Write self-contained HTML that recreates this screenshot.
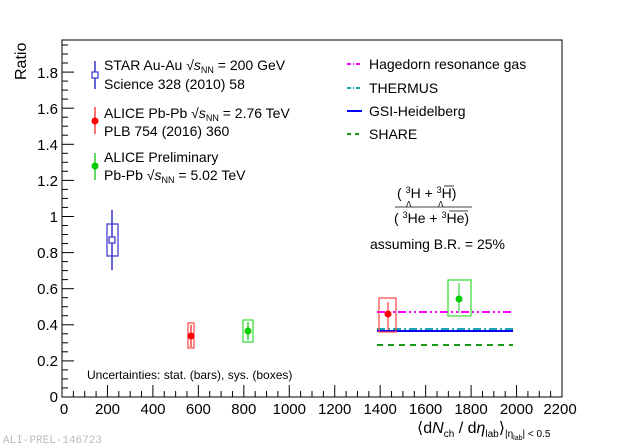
<!DOCTYPE html>
<html><head><style>
body{margin:0;background:#fff;}
svg{display:block;font-family:"Liberation Sans",Arial,sans-serif;}
</style></head><body>
<svg width="620" height="447" viewBox="0 0 620 447">
<rect x="62" y="40" width="500" height="357" fill="none" stroke="#000" stroke-width="1"/>
<g stroke="#000" stroke-width="1">
<line x1="62" y1="360.9" x2="74" y2="360.9"/><line x1="62" y1="324.8" x2="74" y2="324.8"/><line x1="62" y1="288.7" x2="74" y2="288.7"/><line x1="62" y1="252.6" x2="74" y2="252.6"/><line x1="62" y1="216.5" x2="74" y2="216.5"/><line x1="62" y1="180.4" x2="74" y2="180.4"/><line x1="62" y1="144.3" x2="74" y2="144.3"/><line x1="62" y1="108.2" x2="74" y2="108.2"/><line x1="62" y1="72.1" x2="74" y2="72.1"/>
<line x1="62" y1="387.9" x2="68" y2="387.9"/><line x1="62" y1="378.9" x2="68" y2="378.9"/><line x1="62" y1="369.9" x2="68" y2="369.9"/>
<line x1="62" y1="351.8" x2="68" y2="351.8"/><line x1="62" y1="342.8" x2="68" y2="342.8"/><line x1="62" y1="333.8" x2="68" y2="333.8"/>
<line x1="62" y1="315.7" x2="68" y2="315.7"/><line x1="62" y1="306.7" x2="68" y2="306.7"/><line x1="62" y1="297.7" x2="68" y2="297.7"/>
<line x1="62" y1="279.6" x2="68" y2="279.6"/><line x1="62" y1="270.6" x2="68" y2="270.6"/><line x1="62" y1="261.6" x2="68" y2="261.6"/>
<line x1="62" y1="243.5" x2="68" y2="243.5"/><line x1="62" y1="234.5" x2="68" y2="234.5"/><line x1="62" y1="225.5" x2="68" y2="225.5"/>
<line x1="62" y1="207.4" x2="68" y2="207.4"/><line x1="62" y1="198.4" x2="68" y2="198.4"/><line x1="62" y1="189.4" x2="68" y2="189.4"/>
<line x1="62" y1="171.3" x2="68" y2="171.3"/><line x1="62" y1="162.3" x2="68" y2="162.3"/><line x1="62" y1="153.3" x2="68" y2="153.3"/>
<line x1="62" y1="135.2" x2="68" y2="135.2"/><line x1="62" y1="126.2" x2="68" y2="126.2"/><line x1="62" y1="117.2" x2="68" y2="117.2"/>
<line x1="62" y1="99.1" x2="68" y2="99.1"/><line x1="62" y1="90.1" x2="68" y2="90.1"/><line x1="62" y1="81.1" x2="68" y2="81.1"/>
<line x1="62" y1="63" x2="68" y2="63"/><line x1="62" y1="54" x2="68" y2="54"/><line x1="62" y1="45" x2="68" y2="45"/>
</g>
<g id="xt" stroke="#000" stroke-width="1"></g>
<g font-size="15" text-anchor="end" fill="#000">
<text x="58" y="402">0</text><text x="58" y="366">0.2</text><text x="58" y="330">0.4</text><text x="58" y="294">0.6</text><text x="58" y="258">0.8</text><text x="58" y="222">1</text><text x="58" y="186">1.2</text><text x="58" y="150">1.4</text><text x="58" y="114">1.6</text><text x="58" y="78">1.8</text>
</g>
<text transform="translate(26,80) rotate(-90)" font-size="16">Ratio</text>
<g font-size="15" text-anchor="middle">
<text x="64" y="414">0</text><text x="107.5" y="414">200</text><text x="153" y="414">400</text><text x="198.4" y="414">600</text><text x="243.8" y="414">800</text><text x="289.3" y="414">1000</text><text x="334.7" y="414">1200</text><text x="380.2" y="414">1400</text><text x="425.6" y="414">1600</text><text x="471" y="414">1800</text><text x="516.5" y="414">2000</text><text x="560" y="414">2200</text>
</g>
<text x="417" y="433" font-size="16">⟨d<tspan font-style="italic">N</tspan><tspan font-size="10" dy="4">ch</tspan><tspan dy="-4"> / d</tspan><tspan font-style="italic">η</tspan><tspan font-size="10" dy="4">lab</tspan><tspan dy="-4">⟩</tspan><tspan font-size="10" dy="4">|η</tspan><tspan font-size="7" dy="3">lab</tspan><tspan font-size="10" dy="-3">| &lt; 0.5</tspan></text>
<text x="3" y="443" font-size="11" fill="#bbb" font-family="Liberation Mono,monospace">ALI-PREL-146723</text>
<text x="87" y="379" font-size="12">Uncertainties: stat. (bars), sys. (boxes)</text>

<line x1="377" y1="312" x2="513" y2="312" stroke="#f0f" stroke-width="2" stroke-dasharray="8,3,2,3,2,3"/>
<line x1="377" y1="329" x2="513" y2="329" stroke="#1aa6b0" stroke-width="2" stroke-dasharray="8,3,2,3"/>
<line x1="377" y1="331" x2="513" y2="331" stroke="#00f" stroke-width="2"/>
<line x1="377" y1="345" x2="513" y2="345" stroke="#1a9a1a" stroke-width="2" stroke-dasharray="6,5"/>

<line x1="112" y1="210" x2="112" y2="270" stroke="#33c" stroke-width="1.5"/>
<rect x="107" y="224" width="11" height="32" fill="none" stroke="#33c" stroke-width="1.2"/>
<rect x="109" y="237" width="6" height="6" fill="#fff" stroke="#33c" stroke-width="1.2"/>
<line x1="191" y1="325" x2="191" y2="347" stroke="#f44" stroke-width="1.5"/>
<rect x="188" y="323" width="6" height="25" fill="none" stroke="#f44" stroke-width="1.2"/>
<circle cx="191" cy="336" r="3.5" fill="#f00"/>
<line x1="248" y1="322" x2="248" y2="340" stroke="#3c3" stroke-width="1.5"/>
<rect x="243" y="320" width="10" height="22" fill="none" stroke="#3d3" stroke-width="1.2"/>
<circle cx="248" cy="331" r="3.5" fill="#0c0"/>
<rect x="379" y="298" width="17" height="34" fill="none" stroke="#f44" stroke-width="1.2"/>
<line x1="388" y1="302" x2="388" y2="330" stroke="#f66" stroke-width="1.5"/>
<circle cx="388" cy="314" r="3.5" fill="#f00"/>
<rect x="448" y="280" width="23" height="36" fill="none" stroke="#3d3" stroke-width="1.2"/>
<line x1="459" y1="283" x2="459" y2="313" stroke="#6d6" stroke-width="1.5"/>
<circle cx="459" cy="299" r="3.5" fill="#0c0"/>

<line x1="95" y1="61" x2="95" y2="89" stroke="#33c" stroke-width="1.5"/>
<rect x="92" y="72" width="6" height="6" fill="#fff" stroke="#33c" stroke-width="1.2"/>
<line x1="95" y1="107" x2="95" y2="134" stroke="#f44" stroke-width="1.5"/>
<circle cx="95" cy="121" r="3.5" fill="#f00"/>
<line x1="95" y1="153" x2="95" y2="180" stroke="#3c3" stroke-width="1.5"/>
<circle cx="95" cy="166" r="3.5" fill="#0c0"/>
<g font-size="14">
<text x="104" y="70">STAR Au-Au √<tspan font-style="italic">s</tspan><tspan font-size="9" dy="3">NN</tspan><tspan dy="-3"> = 200 GeV</tspan></text>
<text x="104" y="89">Science 328 (2010) 58</text>
<text x="104" y="118">ALICE Pb-Pb √<tspan font-style="italic">s</tspan><tspan font-size="9" dy="3">NN</tspan><tspan dy="-3"> = 2.76 TeV</tspan></text>
<text x="104" y="136">PLB 754 (2016) 360</text>
<text x="104" y="162">ALICE Preliminary</text>
<text x="104" y="180">Pb-Pb √<tspan font-style="italic">s</tspan><tspan font-size="9" dy="3">NN</tspan><tspan dy="-3"> = 5.02 TeV</tspan></text>
</g>
<line x1="347" y1="64" x2="362" y2="64" stroke="#f0f" stroke-width="2" stroke-dasharray="4,2,1,2"/>
<line x1="347" y1="88" x2="362" y2="88" stroke="#1aa6b0" stroke-width="2" stroke-dasharray="4,2,1,2"/>
<line x1="347" y1="111" x2="362" y2="111" stroke="#00f" stroke-width="2"/>
<line x1="347" y1="134" x2="362" y2="134" stroke="#1a9a1a" stroke-width="2" stroke-dasharray="4,4"/>
<g font-size="14">
<text x="369" y="69">Hagedorn resonance gas</text>
<text x="369" y="93">THERMUS</text>
<text x="369" y="116">GSI-Heidelberg</text>
<text x="369" y="139">SHARE</text>
</g>
<g font-size="14">
<text x="397" y="198">( <tspan font-size="9" dy="-5">3</tspan><tspan dy="5">H +  </tspan><tspan font-size="9" dy="-5">3</tspan><tspan dy="5">H)</tspan></text>
<text x="406" y="207" font-size="8">Λ</text><text x="438" y="207" font-size="8">Λ</text>
<line x1="444" y1="186" x2="454" y2="186" stroke="#000" stroke-width="0.8"/>
<line x1="395" y1="207" x2="472" y2="207" stroke="#000" stroke-width="0.8"/>
<text x="394" y="223">( <tspan font-size="9" dy="-5">3</tspan><tspan dy="5">He +  </tspan><tspan font-size="9" dy="-5">3</tspan><tspan dy="5">He)</tspan></text>
<line x1="449" y1="211" x2="468" y2="211" stroke="#000" stroke-width="0.8"/>
<text x="370" y="249">assuming B.R. = 25%</text>
</g>
</svg>
<script>
var g=document.getElementById('xt'),s='';
for(var i=0;i<=44;i++){var x=62+i*500/44;var h=(i%4==0)?12:6;s+='<line x1="'+x+'" y1="397" x2="'+x+'" y2="'+(397-h)+'"/>';}
g.innerHTML=s;
</script>
</body></html>
